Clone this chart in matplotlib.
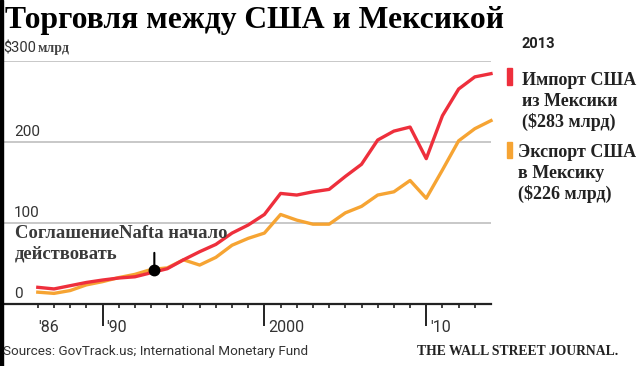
import matplotlib
matplotlib.use("Agg")
import matplotlib.pyplot as plt
from matplotlib.patches import Rectangle
from matplotlib.transforms import blended_transform_factory

# ---- data ----
years = list(range(1986, 2015))
imports_us = [20, 18, 22, 26, 29, 31.5, 33, 38, 43, 54, 64, 73, 87, 97, 110,
              136, 134, 138, 141, 157, 172, 202, 213, 218, 179, 232, 265, 280, 284]
exports_us = [14, 12.5, 16, 23, 27, 32, 36, 42, 44, 54, 47.5, 57, 72, 80.5, 87,
              110, 103, 98, 98, 112, 120, 134, 138, 152, 130, 165, 201, 216, 226]
y_ticks = [0, 100, 200]
y_tick_labels = ["0", "100", "200"]
x_major = [1990, 2000, 2010]
x_minor = list(range(1986, 2014))
x_label_pos = [1986, 1990, 2000, 2010]
x_labels = ["'86", "'90", "2000", "'10"]
nafta_x, nafta_y = 1993.2, 42

title = "Торговля между США и Мексикой"
legend_year = "2013"
legend_imp = ["Импорт США", "из Мексики", "($283 млрд)"]
legend_exp = ["Экспорт США", "в Мексику", "($226 млрд)"]
note_lines = ["СоглашениеNafta начало", "действовать"]
source = "Sources: GovTrack.us; International Monetary Fund"
brand = "THE WALL STREET JOURNAL."

RED = "#ee2f3c"
ORANGE = "#f6a433"
TXT = "#333333"
SANS = "Roboto"
SERIF = "Liberation Serif"

W, H = 640, 366
fig = plt.figure(figsize=(W / 100, H / 100), dpi=100)
fig.patch.set_facecolor("white")


def px(x, y):
    return x / W, 1 - y / H


ax_l, ax_r, ax_b, ax_t = 3, 491, 303.5, 60.7
ax = fig.add_axes([ax_l / W, 1 - ax_b / H, (ax_r - ax_l) / W, (ax_b - ax_t) / H])
ax.set_xlim(1983.85, 2014.0)
ax.set_ylim(0, 300)

for s in ["left", "right", "top"]:
    ax.spines[s].set_visible(False)
ax.spines["bottom"].set_color("#222222")
ax.spines["bottom"].set_linewidth(1.6)

ax.set_yticks([100, 200, 300])
ax.yaxis.grid(True, color="#c4c4c4", lw=1.3)
ax.tick_params(axis="y", left=False, labelleft=False)
ax.set_axisbelow(True)

ax.set_xticks(x_major)
ax.set_xticks(x_minor, minor=True)
ax.tick_params(axis="x", which="major", direction="out", length=16, width=1.4,
               color="#222222", labelbottom=False)
ax.tick_params(axis="x", which="minor", direction="out", length=3.2, width=1.2,
               color="#222222")

ax.plot(years, exports_us, color=ORANGE, lw=2.4, clip_on=False, zorder=3,
        solid_joinstyle="round")
ax.plot(years, imports_us, color=RED, lw=2.4, clip_on=False, zorder=4,
        solid_joinstyle="round")

# y labels above gridlines
tr_y = blended_transform_factory(ax.transAxes, ax.transData)
for v, lab in zip(y_ticks, y_tick_labels):
    ax.text(11 / (ax_r - ax_l), v + 3, lab, transform=tr_y, ha="left", va="bottom",
            fontsize=11, family=SANS, color=TXT)

# x labels
tr_x = blended_transform_factory(ax.transData, ax.transAxes)
for v, lab in zip(x_label_pos, x_labels):
    off = 0.05 if v == 1986 else 0.22
    ax.text(v + off, -0.07, lab, transform=tr_x, ha="left", va="top",
            fontsize=11.5, family=SANS, color=TXT)

# NAFTA annotation
ax.annotate("", xy=(nafta_x, nafta_y), xytext=(nafta_x, nafta_y + 24),
            arrowprops=dict(arrowstyle="-", lw=1.5, color="black"), zorder=5)
ax.plot([nafta_x], [nafta_y], "o", color="black", ms=7.5, zorder=6, clip_on=False)
fig.text(*px(15, 238), note_lines[0], ha="left", va="baseline", fontsize=13.4,
         family=SERIF, weight="bold", color="#3a3a3a")
fig.text(*px(15, 258), note_lines[1], ha="left", va="baseline", fontsize=13.4,
         family=SERIF, weight="bold", color="#3a3a3a")

# title and unit
fig.text(*px(5, 28), title, ha="left", va="baseline", fontsize=22.8,
         family=SERIF, weight="bold", color="black")
fig.text(*px(3, 52), "$300", ha="left", va="baseline", fontsize=10.5,
         family=SANS, color=TXT)
fig.text(*px(38, 52), "млрд", ha="left", va="baseline", fontsize=10,
         family=SERIF, weight="bold", color="#444444")

# legend
fig.text(*px(538, 48), legend_year, ha="center", va="baseline", fontsize=10.5,
         family=SANS, weight="bold", color="#222222")
fig.patches.append(Rectangle(px(507, 85), 5 / W, 17 / H, transform=fig.transFigure,
                             color=RED))
fig.patches.append(Rectangle(px(507, 158), 5 / W, 16 / H, transform=fig.transFigure,
                             color=ORANGE))
for i, line in enumerate(legend_imp):
    fig.text(*px(522, 85 + 21 * i), line, ha="left", va="baseline", fontsize=13,
             family=SERIF, weight="bold", color="#222222")
for i, line in enumerate(legend_exp):
    fig.text(*px(518, 157 + 21 * i), line, ha="left", va="baseline", fontsize=13,
             family=SERIF, weight="bold", color="#222222")

# footer
fig.text(*px(3, 355), source, ha="left", va="baseline", fontsize=9.7,
         family=SANS, color=TXT)
fig.text(*px(417, 355), brand, ha="left", va="baseline", fontsize=9.8,
         family=SERIF, weight="bold", color="#222222")

# left black border
fig.patches.append(Rectangle((0, 0), 2.5 / W, 1, transform=fig.transFigure,
                             color="black"))

fig.savefig("out.png", dpi=100)
